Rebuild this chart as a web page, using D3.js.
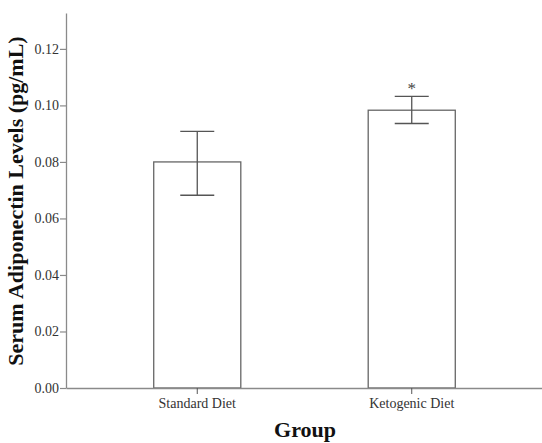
<!DOCTYPE html>
<html><head><meta charset="utf-8">
<script src="https://cdn.jsdelivr.net/npm/d3@7"></script>
<style>body{margin:0;background:#fff}svg{display:block}</style>
</head><body><svg id="c" width="542" height="443"></svg>
<script>
const categories = ["Standard Diet", "Ketogenic Diet"];
const means = [0.0800, 0.0983];
const errLow = [0.0682, 0.0936];
const errHigh = [0.0908, 0.1032];
const significance = ["", "*"];
const yTicks = [0, 0.02, 0.04, 0.06, 0.08, 0.10, 0.12];

const svg = d3.select("#c");
const x0 = 66, x1 = 543, yBase = 388, yTop = 13;
const y = d3.scaleLinear().domain([0, 0.1327]).range([yBase, yTop]);
const x = d3.scaleBand().domain(categories).range([x0, x1]).paddingInner(0.594).paddingOuter(0.409);

const serif = "'Liberation Serif','Times New Roman',serif";
const axisCol = "#8a8a8a";

// y axis
const ya = svg.append("g").attr("transform", `translate(${x0},0)`)
  .attr("font-family", serif)
  .call(d3.axisLeft(y).tickValues(yTicks).tickFormat(d3.format(".2f")).tickSize(6).tickPadding(1).tickSizeOuter(0));
ya.attr("font-family", serif).attr("font-size", 14);
ya.select(".domain").attr("stroke", axisCol).attr("stroke-width", 1.3);
ya.selectAll(".tick line").attr("stroke", axisCol).attr("stroke-width", 1.2);
ya.selectAll(".tick text").attr("font-family", serif).attr("font-size", 14).attr("fill", "#333");

// bars
svg.selectAll("rect.bar").data(categories).join("rect")
  .attr("x", d => x(d)).attr("width", x.bandwidth())
  .attr("y", (d, i) => y(means[i])).attr("height", (d, i) => yBase - y(means[i]))
  .attr("fill", "#fff").attr("stroke", "#666").attr("stroke-width", 1.3);

// x axis
const xa = svg.append("g").attr("transform", `translate(0,${yBase})`)
  .call(d3.axisBottom(x).tickSize(6).tickPadding(4).tickSizeOuter(0));
xa.attr("font-family", serif).attr("font-size", 14);
xa.select(".domain").attr("stroke", axisCol).attr("stroke-width", 1.3);
xa.selectAll(".tick line").attr("stroke", "#555").attr("stroke-width", 1);
xa.selectAll(".tick text").attr("font-family", serif).attr("font-size", 14).attr("fill", "#333");

// error bars
const capW = 34;
categories.forEach((c, i) => {
  const cx = x(c) + x.bandwidth() / 2;
  const g = svg.append("g").attr("stroke", "#555").attr("stroke-width", 1.3);
  g.append("line").attr("x1", cx).attr("x2", cx).attr("y1", y(errHigh[i])).attr("y2", y(errLow[i]));
  g.append("line").attr("x1", cx - capW / 2).attr("x2", cx + capW / 2).attr("y1", y(errHigh[i])).attr("y2", y(errHigh[i]));
  g.append("line").attr("x1", cx - capW / 2).attr("x2", cx + capW / 2).attr("y1", y(errLow[i])).attr("y2", y(errLow[i]));
  if (significance[i]) {
    svg.append("text").attr("x", cx).attr("y", y(errHigh[i]) - 2).attr("text-anchor", "middle")
      .attr("font-family", serif).attr("font-size", 17).attr("fill", "#444").text(significance[i]);
  }
});

// titles
svg.append("text").attr("transform", "translate(23,201) rotate(-90)").attr("text-anchor", "middle")
  .attr("font-family", serif).attr("font-weight", "bold").attr("font-size", 22).attr("fill", "#111")
  .text("Serum Adiponectin Levels (pg/mL)");
svg.append("text").attr("x", 305).attr("y", 437).attr("text-anchor", "middle")
  .attr("font-family", serif).attr("font-weight", "bold").attr("font-size", 22).attr("fill", "#111")
  .text("Group");
</script></body></html>
